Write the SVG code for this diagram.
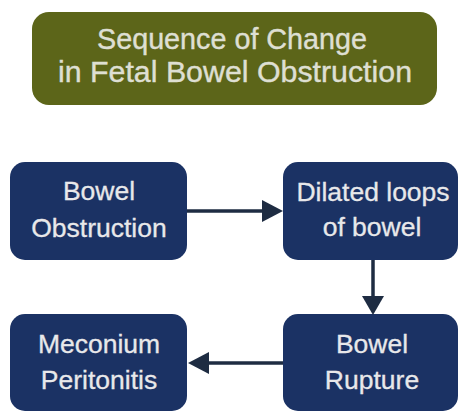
<svg xmlns="http://www.w3.org/2000/svg" width="460" height="411" viewBox="0 0 460 411">
<defs>
<style>
.node rect{fill:#1b3264}
.node text{fill:#e8e8ea;stroke:#e8e8ea;stroke-width:0.3;font-family:"Liberation Sans",Arial,sans-serif;font-size:26.5px;text-anchor:middle}
.title rect{fill:#5c6519}
.title text{fill:#dedfd2;stroke:#dedfd2;stroke-width:0.4;font-family:"Liberation Sans",Arial,sans-serif;font-size:29px;text-anchor:middle}
.conn line{stroke:#1e2c42;stroke-width:3.5}
.conn polygon{fill:#1e2c42}
</style>
</defs>
<rect width="460" height="411" fill="#ffffff"/>
<g id="title" class="title">
<rect x="32" y="12" width="405" height="93" rx="17"/>
<text x="232" y="49" textLength="270" lengthAdjust="spacingAndGlyphs">Sequence of Change</text>
<text x="235" y="82" textLength="354" lengthAdjust="spacingAndGlyphs">in Fetal Bowel Obstruction</text>
</g>
<g id="bowel-obstruction" class="node">
<rect x="10" y="162" width="177" height="98" rx="15"/>
<text x="99" y="200">Bowel</text>
<text x="99" y="237">Obstruction</text>
</g>
<g id="dilated-loops" class="node">
<rect x="283" y="162" width="175" height="98" rx="15"/>
<text x="373" y="201">Dilated loops</text>
<text x="372" y="236">of bowel</text>
</g>
<g id="bowel-rupture" class="node">
<rect x="283" y="314" width="175" height="97" rx="15"/>
<text x="372" y="353">Bowel</text>
<text x="372" y="389">Rupture</text>
</g>
<g id="meconium-peritonitis" class="node">
<rect x="10" y="314" width="177" height="97" rx="15"/>
<text x="99" y="353">Meconium</text>
<text x="99" y="389">Peritonitis</text>
</g>
<g id="connectors" class="conn">
<line x1="187" y1="211" x2="264" y2="211"/>
<polygon points="262,200 283,211 262,222"/>
<line x1="373" y1="260" x2="373" y2="298"/>
<polygon points="362,296 384,296 373,315"/>
<line x1="283" y1="363" x2="206" y2="363"/>
<polygon points="209,352 188,363 209,374"/>
</g>
</svg>
